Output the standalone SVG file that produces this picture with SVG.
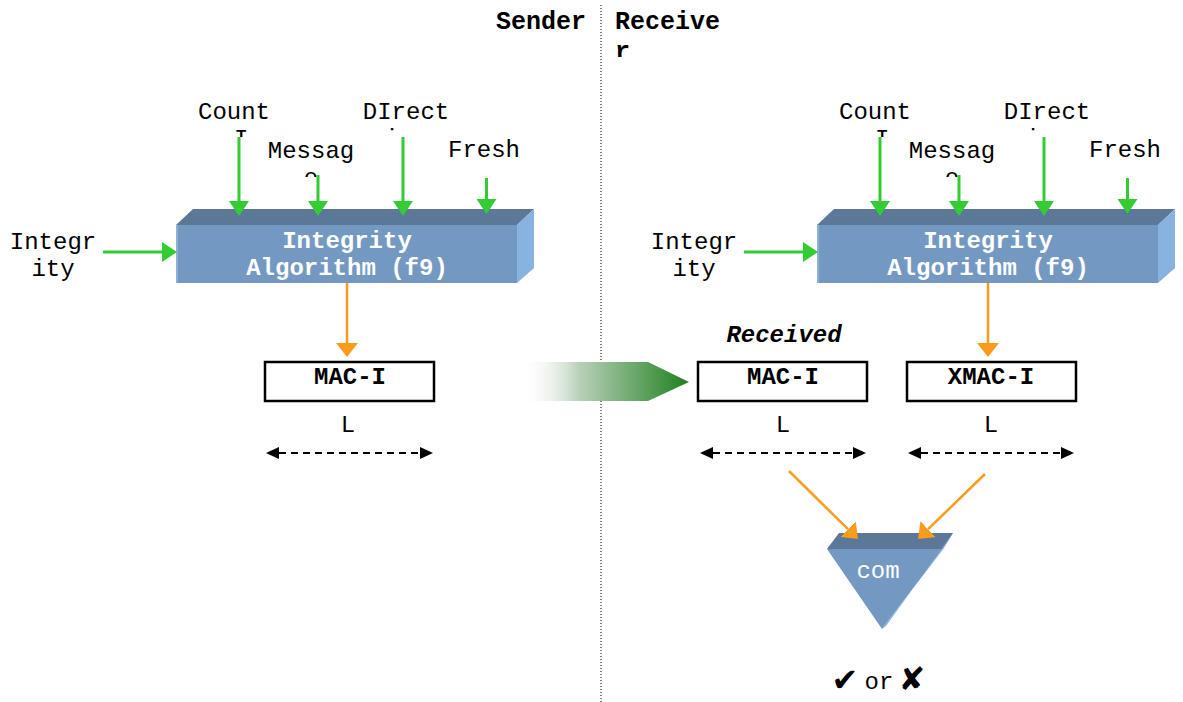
<svg xmlns="http://www.w3.org/2000/svg" width="1183" height="702" viewBox="0 0 1183 702">
<style>
  text { font-family: "Liberation Mono", "Courier New", monospace; fill: #000; }
  .lbl { font-size: 24px; text-anchor: middle; }
  .hdr { font-size: 25px; font-weight: bold; }
  .blk { font-size: 24px; font-weight: bold; fill: #fff; text-anchor: middle; }
  .box { font-size: 24px; font-weight: bold; text-anchor: middle; }
  .front { fill: #7399C3; }
  .top { fill: #5B7898; }
  .side { fill: #88B2DF; }
  .rect { fill: #fff; stroke: #000; stroke-width: 2.5; }
  .green { stroke: #33CC33; stroke-width: 3; fill: none; marker-end: url(#gh); }
  .orange { stroke: #F99C1C; stroke-width: 2.5; fill: none; marker-end: url(#oh); }
  .dash { stroke: #000; stroke-width: 2; stroke-dasharray: 7 5; fill: none; marker-start: url(#bh); marker-end: url(#bh); }
  .mark { font-family: "DejaVu Sans", sans-serif; font-size: 32px; text-anchor: middle; }
</style>
<defs>
  <marker id="gh" viewBox="0 0 15 20" refX="0" refY="10" markerWidth="15" markerHeight="20" orient="auto" markerUnits="userSpaceOnUse">
    <path d="M0,0 L15,10 L0,20 z" fill="#33CC33"/>
  </marker>
  <marker id="oh" viewBox="0 0 14 22" refX="0" refY="11" markerWidth="14" markerHeight="22" orient="auto" markerUnits="userSpaceOnUse">
    <path d="M0,0 L14,11 L0,22 z" fill="#F99C1C"/>
  </marker>
  <marker id="bh" viewBox="0 0 13 12" refX="0" refY="6" markerWidth="13" markerHeight="12" orient="auto-start-reverse" markerUnits="userSpaceOnUse">
    <path d="M0,0 L13,6 L0,12 z" fill="#000"/>
  </marker>
  <linearGradient id="gfade" gradientUnits="userSpaceOnUse" x1="520" y1="0" x2="690" y2="0">
    <stop offset="0" stop-color="#ffffff" stop-opacity="0"/>
    <stop offset="0.35" stop-color="#b8d0b8"/>
    <stop offset="1" stop-color="#1E7F1E"/>
  </linearGradient>
  <clipPath id="cCountS" clipPathUnits="userSpaceOnUse"><rect x="150" y="90" width="150" height="47"/></clipPath>
  <clipPath id="cMsgS" clipPathUnits="userSpaceOnUse"><rect x="250" y="130" width="130" height="47"/></clipPath>
  <clipPath id="cDirS" clipPathUnits="userSpaceOnUse"><rect x="340" y="90" width="140" height="43"/></clipPath>
  <clipPath id="cCountR" clipPathUnits="userSpaceOnUse"><rect x="791" y="90" width="150" height="47"/></clipPath>
  <clipPath id="cMsgR" clipPathUnits="userSpaceOnUse"><rect x="891" y="130" width="130" height="47"/></clipPath>
  <clipPath id="cDirR" clipPathUnits="userSpaceOnUse"><rect x="981" y="90" width="140" height="43"/></clipPath>
  <clipPath id="cRecv" clipPathUnits="userSpaceOnUse"><rect x="600" y="0" width="200" height="57"/></clipPath>
</defs>
<rect width="1183" height="702" fill="#fff"/>

<g id="divider">
  <line x1="601" y1="5" x2="601" y2="702" stroke="#000" stroke-width="1" stroke-dasharray="1 2"/>
</g>

<g id="header-sender"><text class="hdr" x="586" y="29" text-anchor="end">Sender</text></g>
<g id="header-receiver" clip-path="url(#cRecv)">
  <text class="hdr" x="615" y="29">Receive</text>
  <text class="hdr" x="615" y="59">r</text>
</g>

<!-- Sender labels -->
<g id="label-count-s" clip-path="url(#cCountS)"><text class="lbl" x="234" y="119">Count</text><text class="lbl" x="234" y="146">-I</text></g>
<g id="label-message-s" clip-path="url(#cMsgS)"><text class="lbl" x="311" y="158">Messag</text><text class="lbl" x="311" y="185">e</text></g>
<g id="label-direction-s" clip-path="url(#cDirS)"><text class="lbl" x="406" y="119">DIrect</text><text class="lbl" x="406" y="146">ion</text></g>
<g id="label-fresh-s"><text class="lbl" x="484" y="157">Fresh</text></g>
<g id="label-integrity-s"><text class="lbl" x="53" y="249">Integr</text><text class="lbl" x="53" y="276">ity</text></g>

<!-- Receiver labels -->
<g id="label-count-r" clip-path="url(#cCountR)"><text class="lbl" x="875" y="119">Count</text><text class="lbl" x="875" y="146">-I</text></g>
<g id="label-message-r" clip-path="url(#cMsgR)"><text class="lbl" x="952" y="158">Messag</text><text class="lbl" x="952" y="185">e</text></g>
<g id="label-direction-r" clip-path="url(#cDirR)"><text class="lbl" x="1047" y="119">DIrect</text><text class="lbl" x="1047" y="146">ion</text></g>
<g id="label-fresh-r"><text class="lbl" x="1125" y="157">Fresh</text></g>
<g id="label-integrity-r"><text class="lbl" x="694" y="249">Integr</text><text class="lbl" x="694" y="276">ity</text></g>

<!-- Sender f9 block -->
<g id="f9-sender">
  <polygon class="top" points="176,225 193,209 534,209 517,225"/>
  <polygon class="side" points="517,225 534,209 534,268 517,283"/>
  <rect class="front" x="176" y="225" width="341" height="58"/>
  <rect x="176" y="225" width="2" height="58" fill="#8FB0D6"/>
  <text class="blk" x="347" y="248">Integrity</text>
  <text class="blk" x="347" y="275">Algorithm (f9)</text>
</g>

<!-- Receiver f9 block -->
<g id="f9-receiver">
  <polygon class="top" points="817,225 834,209 1175,209 1158,225"/>
  <polygon class="side" points="1158,225 1175,209 1175,268 1158,283"/>
  <rect class="front" x="817" y="225" width="341" height="58"/>
  <rect x="817" y="225" width="2" height="58" fill="#8FB0D6"/>
  <text class="blk" x="988" y="248">Integrity</text>
  <text class="blk" x="988" y="275">Algorithm (f9)</text>
</g>

<g id="mac-sender">
  <rect class="rect" x="265" y="362" width="169" height="39"/>
  <text class="box" x="350" y="384">MAC-I</text>
</g>
<g id="length-sender"><text class="lbl" x="348" y="432">L</text></g>

<g id="received-label"><text x="784" y="342" style="font-size:24px;font-weight:bold;font-style:italic;text-anchor:middle">Received</text></g>
<g id="mac-received">
  <rect class="rect" x="698" y="362" width="169" height="39"/>
  <text class="box" x="783" y="384">MAC-I</text>
</g>
<g id="length-received"><text class="lbl" x="783" y="432">L</text></g>
<g id="xmac">
  <rect class="rect" x="907" y="362" width="169" height="39"/>
  <text class="box" x="991" y="384">XMAC-I</text>
</g>
<g id="length-xmac"><text class="lbl" x="991" y="432">L</text></g>

<g id="transfer">
  <polygon points="520,362 648,362 689,382 648,401 520,401" fill="url(#gfade)"/>
</g>

<g id="compare">
  <polygon class="top" points="839,533 953,533 943,549 827,549"/>
  <polygon class="front" points="827,549 943,549 882,629"/>
  <polygon class="side" points="943,549 953,533 886,626 882,629"/>
  <text x="878" y="578" style="font-size:24px;fill:#fff;text-anchor:middle">com</text>
</g>

<g id="result">
  <text class="mark" x="845" y="691">✔</text>
  <text x="879" y="689" style="font-size:24px;text-anchor:middle">or</text>
  <text class="mark" x="912" y="690">✘</text>
</g>

<g id="connectors">
  <path class="green" d="M239 137 V201"/>
  <path class="green" d="M318 175 V201"/>
  <path class="green" d="M403 137 V201"/>
  <path class="green" d="M486.5 178 V199"/>
  <path class="green" d="M103 252 H162"/>
  <path class="green" d="M880 137 V201"/>
  <path class="green" d="M959 175 V201"/>
  <path class="green" d="M1044 137 V201"/>
  <path class="green" d="M1127.5 178 V199"/>
  <path class="green" d="M744 252 H803"/>
  <path class="orange" d="M347 283 V343"/>
  <path class="orange" d="M988 283 V343"/>
  <path class="orange" d="M789 471 L848 529.2"/>
  <path class="orange" d="M985 474 L928.1 529.2"/>
  <path class="dash" d="M279 453 H420"/>
  <path class="dash" d="M713 453 H853"/>
  <path class="dash" d="M921 453 H1061"/>
</g>
</svg>
